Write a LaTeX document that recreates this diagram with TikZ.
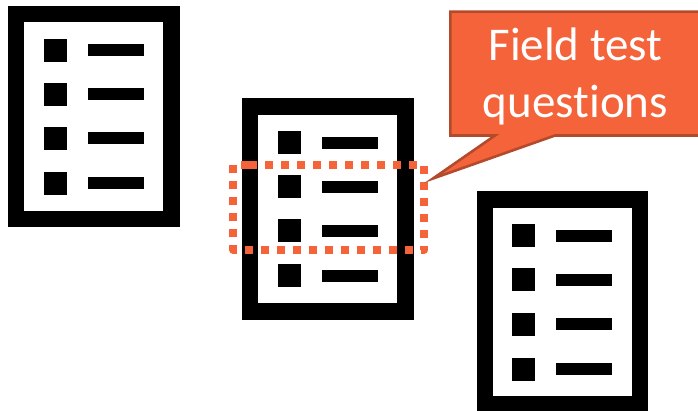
\documentclass[tikz,border=0pt]{standalone}
\usepackage{fontspec}
\setmainfont[Ligatures=NoCommon]{Carlito}
\usetikzlibrary{positioning}
\definecolor{callout}{HTML}{F4633A}
\definecolor{calloutedge}{HTML}{B34A2C}
\tikzset{
  docframe/.style={fill=black},
  docpage/.style={fill=white},
  calloutbox/.style={fill=callout,draw=calloutedge,line width=2.6pt,line join=miter},
  calloutlabel/.style={text=white,align=center,font=\fontsize{47}{57}\selectfont},
  dotbox/.style={draw=callout,line width=8pt,dash pattern=on 8pt off 8pt,line join=round}
}
\begin{document}
\begin{tikzpicture}[x=1pt,y=-1pt]
\useasboundingbox (0,0) rectangle (698,411);
\foreach \dx/\dy in {0/0,234/92.5,468.3/185.5}{
  \fill[docframe] (8.3+\dx,6+\dy) rectangle (179.7+\dx,227.3+\dy);
  \fill[docpage] (24.3+\dx,22.2+\dy) rectangle (163.3+\dx,210.8+\dy);
  \foreach \y in {39,83,127,172}{
    \fill (44+\dx,\y+\dy) rectangle (67+\dx,\y+23+\dy);
    \fill (88+\dx,\y+5.5+\dy) rectangle (144+\dx,\y+17.5+\dy);
  }
}
\draw[dotbox] (249,164.8) -- (424.2,164.8) -- (424.2,250) -- (233.3,250) -- (233.3,164.8) -- cycle;
\draw[calloutbox] (450.3,11.7) -- (700,11.7) -- (700,135.5) -- (555,135.5) -- (433,178.5) -- (495,135.5) -- (450.3,135.5) -- cycle;
\node[calloutlabel] (fieldtest) at (575.5,76.5) {Field test\\questions};
\end{tikzpicture}
\end{document}
